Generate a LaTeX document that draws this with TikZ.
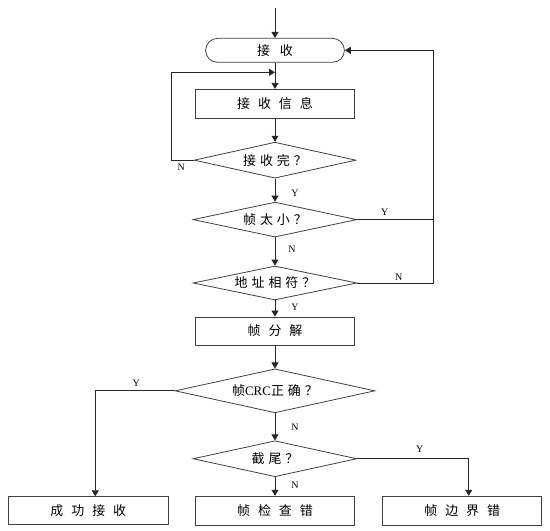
\documentclass[tikz,border=0pt]{standalone}
\usepackage{fontspec}
\setmainfont{Liberation Serif}
\newfontfamily\cjk{Noto Sans CJK SC}
\usetikzlibrary{shapes.geometric,shapes.misc,arrows.meta,calc}
\newcommand\gA{\hspace{8pt}}
\newcommand\gB{\hspace{4pt}}
\newcommand\gC{\hspace{10pt}}
\begin{document}
\begin{tikzpicture}[x=1pt,y=-1pt,
  every path/.style={line width=0.8pt,draw=black!85},
  arr/.style={-{Triangle[length=6pt,width=7pt]}},
  base/.style={draw=black!75,line width=0.8pt,inner sep=0pt,font=\fontsize{13}{15}\cjk},
  proc/.style={base,rectangle,minimum width=160pt,minimum height=29pt},
  term/.style={base,rounded rectangle,minimum width=139pt,minimum height=24pt},
  dec/.style={base,diamond,shape aspect=4.5,minimum width=164pt,minimum height=36pt},
  yn/.style={font=\fontsize{10}{12}\selectfont,inner sep=0pt}]
\useasboundingbox (0,0) rectangle (550,530);
\fill[white] (0,0) rectangle (550,530);
\coordinate (top) at (275,8);
\node[term] (t) at (275,50) {接\gC 收};
\node[proc] (info) at (275,103.5) {接\gA 收\gA 信\gA 息};
\node[dec,minimum width=162pt] (d1) at (275,160) {接\gB 收\gB 完\gB ？};
\node[dec,minimum height=35pt] (d2) at (275,219.5) {帧\gB 太\gB 小\gB ？};
\node[dec,minimum height=34pt] (d3) at (275,283) {地\gB 址\gB 相\gB 符\gB ？};
\node[proc,minimum height=28pt] (fj) at (275,331) {帧\gA 分\gA 解};
\node[dec,minimum width=200pt,minimum height=44pt] (d4) at (275,391) {帧{\rmfamily\fontsize{13}{15}\selectfont CRC}正\gB 确\gB ？};
\node[dec] (d5) at (275,459) {截\gB 尾\gB ？};
\node[proc,minimum height=28pt] (b1) at (88,511) {成\gA 功\gA 接\gA 收};
\node[proc] (b2) at (275,511) {帧\gA 检\gA 查\gA 错};
\node[proc,minimum width=159pt] (b3) at (462.5,511) {帧\gA 边\gA 界\gA 错};
\coordinate (j1) at (275,72);
\coordinate (lx) at (171,160);
\coordinate (rx) at (434,219.5);
\coordinate (rx2) at (434,283);
\coordinate (rtop) at (434,50);
% connectors
\draw[arr] (top) -- (t.north);
\draw[arr] (t.south) -- (info.north);
\draw[arr] (d1.west) -- (lx) |- (j1);
\draw[arr] (info.south) -- (d1.north);
\draw[arr] (d1.south) -- (d2.north);
\draw (d2.east) -- (rx);
\draw[arr] (d3.east) -- (rx2) -- (rtop) -- (t.east);
\draw[arr] (d2.south) -- (d3.north);
\draw[arr] (d3.south) -- (fj.north);
\draw[arr] (fj.south) -- (d4.north);
\draw[arr] (d4.west) -| ([xshift=7pt]b1.north);
\draw[arr] (d4.south) -- (d5.north);
\draw[arr] (d5.south) -- (b2.north);
\draw[arr] (d5.east) -| ([xshift=6.5pt]b3.north);
% labels
\node[yn] (l1) at (181,167) {N};
\node[yn] (l2) at (295,193) {Y};
\node[yn] (l3) at (385,212) {Y};
\node[yn] (l4) at (292,249) {N};
\node[yn] (l5) at (399,277) {N};
\node[yn] (l6) at (295,307) {Y};
\node[yn] (l7) at (136,383) {Y};
\node[yn] (l8) at (295,427) {N};
\node[yn] (l9) at (420,449) {Y};
\node[yn] (l10) at (295,486) {N};
\end{tikzpicture}
\end{document}
